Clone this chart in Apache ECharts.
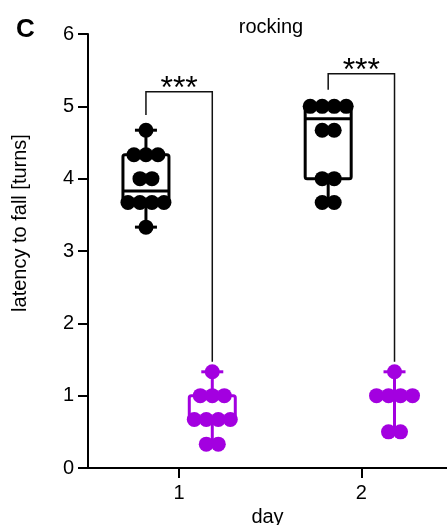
<!DOCTYPE html>
<html>
<head>
<meta charset="utf-8">
<script src="https://cdn.jsdelivr.net/npm/echarts@6/dist/echarts.min.js"></script>
<style>
  html, body { margin: 0; padding: 0; background: #fff; }
  #chart { width: 447px; height: 525px; }
</style>
</head>
<body>
<div id="chart"></div>
<script>
// days on the x axis, two groups per day
const days = [1, 2];
const groupShift = 0.182; // black left of the day, purple right

// individual animals (latency in turns)
const blackDay1 = [4.67, 4.33, 4.33, 4.33, 4.0, 4.0, 3.67, 3.67, 3.67, 3.67, 3.33];
const blackDay2 = [5.0, 5.0, 5.0, 5.0, 4.67, 4.67, 4.0, 4.0, 3.67, 3.67];
const purpleDay1 = [1.33, 1.0, 1.0, 1.0, 0.67, 0.67, 0.67, 0.67, 0.33, 0.33];
const purpleDay2 = [1.33, 1.0, 1.0, 1.0, 1.0, 0.5, 0.5];

// box stats: [min, q1, median, q3, max]
const blackBoxes = [[3.33, 3.67, 3.83, 4.33, 4.67], [3.67, 4.0, 4.83, 5.0, 5.0]];
const purpleBoxes = [[0.33, 0.67, 0.67, 1.0, 1.33], [0.5, 1.0, 1.0, 1.0, 1.33]];

// significance brackets: [yTop, yLeftEnd, yRightEnd]
const brackets = [[5.2, 4.88, 1.47], [5.45, 5.23, 1.47]];
const starLabel = '***';

const yTicks = [0, 1, 2, 3, 4, 5, 6];

const black = '#000000';
const purple = '#a300e0';
const font = "'Liberation Sans', Arial, sans-serif";

const chart = echarts.init(document.getElementById('chart'));

function dotData(values, x) {
  // spread equal values side by side (12px apart)
  const counts = {};
  values.forEach(v => { counts[v] = (counts[v] || 0) + 1; });
  const seen = {};
  return values.map(v => {
    const i = seen[v] || 0;
    seen[v] = i + 1;
    const dx = (i - (counts[v] - 1) / 2) * 12;
    return { value: [x, v], symbolOffset: [dx, 0] };
  });
}

function boxSeries(boxes, color, shift) {
  return {
    type: 'custom',
    z: 2,
    data: boxes.map((b, i) => [days[i] + shift].concat(b)),
    renderItem: function (params, api) {
      const x = api.value(0);
      const pMin = api.coord([x, api.value(1)]);
      const pQ1 = api.coord([x, api.value(2)]);
      const pMed = api.coord([x, api.value(3)]);
      const pQ3 = api.coord([x, api.value(4)]);
      const pMax = api.coord([x, api.value(5)]);
      const cx = pMin[0];
      const hw = 23, cap = 11;
      const st = { stroke: color, lineWidth: 3, fill: null };
      return {
        type: 'group',
        children: [
          { type: 'line', shape: { x1: cx, y1: pMin[1], x2: cx, y2: pQ1[1] }, style: st },
          { type: 'line', shape: { x1: cx, y1: pQ3[1], x2: cx, y2: pMax[1] }, style: st },
          { type: 'line', shape: { x1: cx - cap, y1: pMin[1], x2: cx + cap, y2: pMin[1] }, style: st },
          { type: 'line', shape: { x1: cx - cap, y1: pMax[1], x2: cx + cap, y2: pMax[1] }, style: st },
          { type: 'rect', shape: { x: cx - hw, y: pQ3[1], width: hw * 2, height: pQ1[1] - pQ3[1], r: 2 },
            style: { stroke: color, lineWidth: 3, fill: 'rgba(0,0,0,0)' } },
          { type: 'line', shape: { x1: cx - hw, y1: pMed[1], x2: cx + hw, y2: pMed[1] }, style: st }
        ]
      };
    }
  };
}

function dotSeries(values, color, x) {
  return {
    type: 'scatter',
    z: 3,
    symbol: 'circle',
    symbolSize: 15,
    itemStyle: { color: color, opacity: 1 },
    data: dotData(values, x)
  };
}

const bracketSeries = {
  type: 'custom',
  z: 4,
  data: brackets.map((b, i) => [days[i]].concat(b)),
  renderItem: function (params, api) {
    const d = api.value(0);
    const xl = d - groupShift, xr = d + groupShift;
    const tl = api.coord([xl, api.value(1)]);
    const tr = api.coord([xr, api.value(1)]);
    const bl = api.coord([xl, api.value(2)]);
    const br = api.coord([xr, api.value(3)]);
    const st = { stroke: '#111', lineWidth: 1.5, fill: null };
    return {
      type: 'group',
      children: [
        { type: 'polyline', shape: { points: [bl, tl, tr, br] }, style: st },
        { type: 'text', x: (tl[0] + tr[0]) / 2, y: tl[1] + 13,
          style: { text: starLabel, fill: '#000', font: '32px ' + font, align: 'center', verticalAlign: 'bottom' } }
      ]
    };
  }
};

const option = {
  animation: false,
  textStyle: { fontFamily: font },
  title: [
    { text: 'rocking', left: 266, top: 12, textAlign: 'center',
      textStyle: { fontSize: 20, fontWeight: 'normal', color: '#000', fontFamily: font } },
    { text: 'C', left: 11, top: 12,
      textStyle: { fontSize: 26, fontWeight: 'bold', color: '#000', fontFamily: font } }
  ],
  graphic: [
    { type: 'text', x: 20, y: 223, rotation: Math.PI / 2,
      style: { text: 'latency to fall [turns]', font: '20px ' + font, fill: '#000',
        align: 'center', verticalAlign: 'middle' } }
  ],
  grid: { left: 88, right: 0, top: 34, bottom: 57, containLabel: false, outerBoundsMode: 'none' },
  xAxis: {
    type: 'value',
    min: 0.5,
    max: 2.47,
    name: 'day',
    nameLocation: 'middle',
    nameGap: 36,
    nameTextStyle: { fontSize: 20, color: '#000' },
    splitLine: { show: false },
    axisLine: { show: true, lineStyle: { color: '#000', width: 2 } },
    axisTick: { show: true, customValues: days, length: 10, lineStyle: { color: '#000', width: 2 } },
    axisLabel: { customValues: days, fontSize: 20, color: '#000', margin: 15 }
  },
  yAxis: {
    type: 'value',
    min: 0,
    max: 6,
    interval: 1,
    splitLine: { show: false },
    axisLine: { show: true, lineStyle: { color: '#000', width: 2 } },
    axisTick: { show: true, length: 10, lineStyle: { color: '#000', width: 2 } },
    axisLabel: { fontSize: 20, color: '#000', margin: 14, customValues: yTicks }
  },
  series: [
    boxSeries(blackBoxes, black, -groupShift),
    boxSeries(purpleBoxes, purple, groupShift),
    dotSeries(blackDay1, black, days[0] - groupShift),
    dotSeries(blackDay2, black, days[1] - groupShift),
    dotSeries(purpleDay1, purple, days[0] + groupShift),
    dotSeries(purpleDay2, purple, days[1] + groupShift),
    bracketSeries
  ]
};

chart.setOption(option);
</script>
</body>
</html>
